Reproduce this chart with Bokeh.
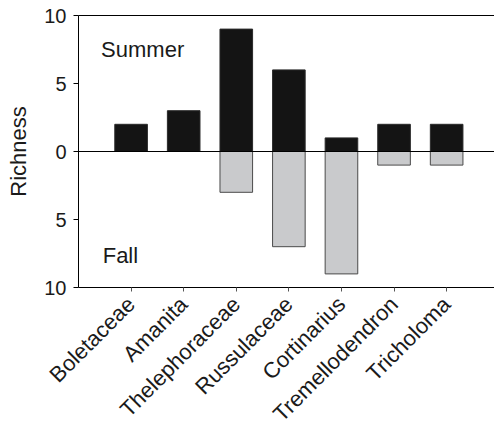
from bokeh.plotting import figure
from bokeh.models import Range1d, LinearAxis, Span, Label, FixedTicker, ColumnDataSource
from bokeh.embed import file_html
from bokeh.resources import INLINE
import math

taxa = ["Boletaceae", "Amanita", "Thelephoraceae", "Russulaceae",
        "Cortinarius", "Tremellodendron", "Tricholoma"]
summer = [2, 3, 9, 6, 1, 2, 2]
fall = [0, 0, 3, 7, 9, 1, 1]
y_ticks = [-10, -5, 0, 5, 10]
y_tick_labels = ["10", "5", "0", "5", "10"]

pos = list(range(1, len(taxa) + 1))
src = ColumnDataSource(dict(x=pos, summer=summer, fall_neg=[-v for v in fall],
                            zero=[0] * len(taxa)))

FONT = "Liberation Sans"
TXT = "#1a1a1a"

p = figure(width=494, height=438, output_backend="svg", toolbar_location=None,
           x_range=Range1d(0, 7.91), y_range=Range1d(-10, 10),
           min_border_left=78, min_border_right=0, min_border_top=15,
           min_border_bottom=151)
p.outline_line_color = None
p.grid.visible = False
p.background_fill_color = "white"
p.border_fill_color = "white"

p.vbar(x="x", bottom="zero", top="summer", width=0.62, source=src,
       fill_color="#141414", line_color="#2a2a2a", line_width=1)
p.vbar(x="x", bottom="fall_neg", top="zero", width=0.62, source=src,
       fill_color="#c9cacc", line_color="#4a4a4a", line_width=1)

p.add_layout(Span(location=0, dimension="width", line_color="black", line_width=1))

# y axis
ya = p.yaxis[0]
ya.ticker = FixedTicker(ticks=y_ticks)
ya.major_label_overrides = {t: l for t, l in zip(y_ticks, y_tick_labels)}
ya.axis_label = "Richness"
ya.axis_label_text_font = FONT
ya.axis_label_text_font_size = "22px"
ya.axis_label_text_font_style = "normal"
ya.axis_label_text_color = TXT
ya.axis_label_standoff = 10
ya.major_label_text_font = FONT
ya.major_label_text_font_size = "20px"
ya.major_label_text_color = TXT
ya.major_label_standoff = 7
ya.major_tick_out = 5
ya.major_tick_in = 0
ya.minor_tick_out = 0
ya.minor_tick_in = 0
ya.axis_line_color = "black"
ya.major_tick_line_color = "black"

# x axis
xa = p.xaxis[0]
xa.ticker = FixedTicker(ticks=pos)
xa.major_label_overrides = {i: t for i, t in zip(pos, taxa)}
xa.major_label_orientation = math.pi / 4
xa.major_label_text_font = FONT
xa.major_label_text_font_size = "22px"
xa.major_label_text_color = TXT
xa.major_label_standoff = 9
xa.major_tick_out = 4
xa.major_tick_in = 0
xa.minor_tick_out = 0
xa.minor_tick_in = 0
xa.axis_line_color = "black"
xa.major_tick_line_color = "#555555"

# top border line
top = LinearAxis(ticker=FixedTicker(ticks=[]), major_label_text_font_size="0px",
                 major_tick_out=0, minor_tick_out=0, axis_line_color="black")
p.add_layout(top, "above")

p.add_layout(Label(x=0.43, y=6.6, text="Summer", text_font=FONT,
                   text_font_size="22px", text_color=TXT))
p.add_layout(Label(x=0.46, y=-8.6, text="Fall", text_font=FONT,
                   text_font_size="22px", text_color=TXT))

open("out.html", "w").write(file_html(p, INLINE))
